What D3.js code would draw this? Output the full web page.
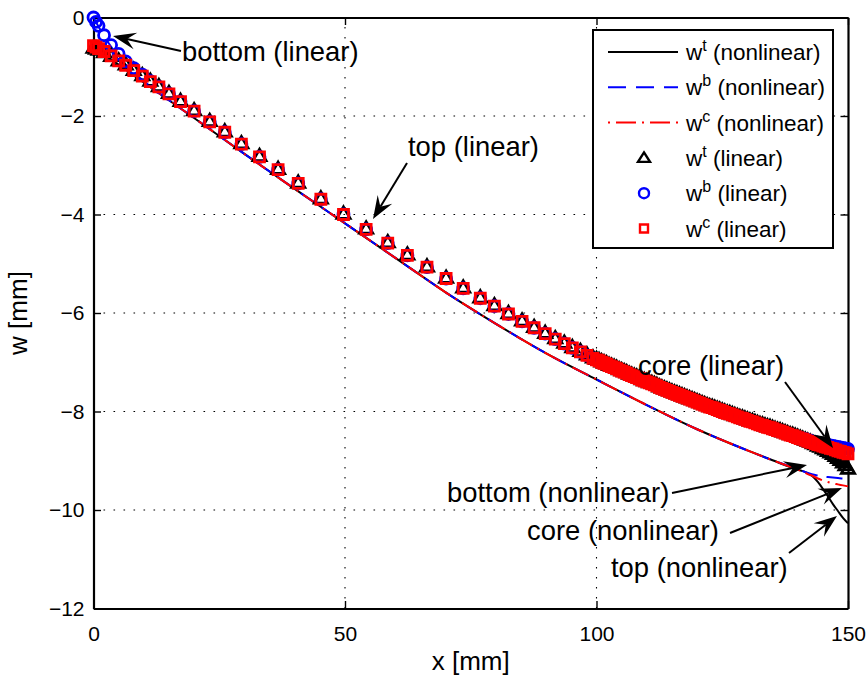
<!DOCTYPE html>
<html>
<head>
<meta charset="utf-8">
<script src="https://cdn.jsdelivr.net/npm/d3@7"></script>
<style>
  body { margin: 0; background: #fff; }
  svg { display: block; }
  text { font-family: "Liberation Sans", Arial, Helvetica, sans-serif; fill: #000; }
</style>
</head>
<body>
<svg id="chart" width="868" height="678"></svg>
<script>
// ---- axis ticks ----
const xTicks = [0, 50, 100, 150];
const yTicks = [0, -2, -4, -6, -8, -10, -12];

// ---- nonlinear solution: deflection of top face, bottom face and core [mm] ----
const xNl = [0, 2, 5, 10, 15, 20, 30, 40, 50, 60, 70, 80, 90, 100, 110, 120, 130, 135, 140,
  141, 142, 143, 144, 145, 146, 147, 148, 149, 150];
const wTopNl = [-0.62, -0.75, -0.96, -1.32, -1.68, -2.04, -2.77, -3.48, -4.18, -4.88, -5.58, -6.22, -6.82, -7.35, -7.87, -8.36, -8.79, -8.99, -9.18,
  -9.21, -9.25, -9.32, -9.43, -9.57, -9.72, -9.88, -10.02, -10.16, -10.27];
const wBotNl = [0.00, -0.36, -0.80, -1.29, -1.68, -2.04, -2.77, -3.48, -4.18, -4.88, -5.58, -6.22, -6.82, -7.35, -7.87, -8.36, -8.79, -8.99, -9.17,
  -9.21, -9.25, -9.28, -9.30, -9.32, -9.33, -9.34, -9.35, -9.36, -9.36];
const wCoreNl = [-0.62, -0.75, -0.96, -1.32, -1.68, -2.04, -2.77, -3.48, -4.18, -4.88, -5.58, -6.22, -6.82, -7.35, -7.87, -8.36, -8.79, -8.99, -9.18,
  -9.22, -9.27, -9.31, -9.36, -9.40, -9.43, -9.46, -9.48, -9.50, -9.52];

// ---- linear solution at the mesh nodes (mesh refined towards x = 150) ----
const xLin = [0, 0.5, 1, 2.1, 3.5, 5, 6.4, 8, 9.7, 11.3, 13, 15, 17.3, 20, 23.1, 26.1, 29.4, 33, 36.7, 40.7,
  45.2, 49.7, 54.2, 58.5, 62.4, 66.3, 70.1, 73.5, 76.9, 79.7, 82.5, 85.2, 87.6, 89.8, 91.8, 93.6, 95.2, 96.8, 98.1, 99.3,
  100, 100.5, 101, 101.5, 102, 102.5, 103, 103.5, 104, 104.5, 105, 105.5, 106, 106.5, 107, 107.5, 108, 108.5, 109, 109.5,
  110, 110.5, 111, 111.5, 112, 112.5, 113, 113.5, 114, 114.5, 115, 115.5, 116, 116.5, 117, 117.5, 118, 118.5, 119, 119.5,
  120, 120.5, 121, 121.5, 122, 122.5, 123, 123.5, 124, 124.5, 125, 125.5, 126, 126.5, 127, 127.5, 128, 128.5, 129, 129.5,
  130, 130.5, 131, 131.5, 132, 132.5, 133, 133.5, 134, 134.5, 135, 135.5, 136, 136.5, 137, 137.5, 138, 138.5, 139, 139.5,
  140, 140.5, 141, 141.5, 142, 142.5, 143, 143.5, 144, 144.5, 145, 145.5, 146, 146.5, 147, 147.5, 148, 148.5, 149, 149.5, 150];
const wCoreLin = [-0.57, -0.60, -0.63, -0.69, -0.78, -0.88, -0.97, -1.08, -1.19, -1.30, -1.41, -1.55, -1.71, -1.90, -2.12, -2.33, -2.57, -2.83, -3.09, -3.37,
  -3.69, -4.00, -4.30, -4.58, -4.83, -5.07, -5.30, -5.50, -5.70, -5.86, -6.02, -6.17, -6.30, -6.42, -6.53, -6.62, -6.71, -6.79, -6.86, -6.92,
  -6.95, -6.97, -7.00, -7.02, -7.04, -7.07, -7.09, -7.11, -7.13, -7.16, -7.18, -7.20, -7.22, -7.25, -7.27, -7.29, -7.31, -7.33, -7.36, -7.38,
  -7.40, -7.42, -7.44, -7.46, -7.48, -7.51, -7.53, -7.55, -7.57, -7.59, -7.61, -7.63, -7.65, -7.67, -7.69, -7.71, -7.73, -7.75, -7.77, -7.79,
  -7.81, -7.83, -7.85, -7.87, -7.89, -7.91, -7.92, -7.94, -7.96, -7.98, -8.00, -8.02, -8.04, -8.05, -8.07, -8.09, -8.11, -8.13, -8.14, -8.16,
  -8.18, -8.20, -8.21, -8.23, -8.25, -8.27, -8.28, -8.30, -8.32, -8.33, -8.35, -8.37, -8.39, -8.40, -8.42, -8.44, -8.46, -8.48, -8.49, -8.51,
  -8.53, -8.55, -8.56, -8.58, -8.60, -8.62, -8.63, -8.65, -8.67, -8.68, -8.70, -8.72, -8.73, -8.75, -8.76, -8.78, -8.80, -8.81, -8.83, -8.84, -8.86];
const wTopLin = [-0.63, -0.65, -0.67, -0.72, -0.80, -0.89, -0.97, -1.08, -1.19, -1.30, -1.41, -1.55, -1.71, -1.90, -2.12, -2.33, -2.57, -2.83, -3.09, -3.37,
  -3.69, -4.00, -4.30, -4.58, -4.83, -5.07, -5.30, -5.50, -5.70, -5.86, -6.02, -6.17, -6.30, -6.42, -6.53, -6.62, -6.71, -6.79, -6.86, -6.92,
  -6.95, -6.97, -7.00, -7.02, -7.04, -7.07, -7.09, -7.11, -7.13, -7.16, -7.18, -7.20, -7.22, -7.25, -7.27, -7.29, -7.31, -7.33, -7.36, -7.38,
  -7.40, -7.42, -7.44, -7.46, -7.48, -7.51, -7.53, -7.55, -7.57, -7.59, -7.61, -7.63, -7.65, -7.67, -7.69, -7.71, -7.73, -7.75, -7.77, -7.79,
  -7.81, -7.83, -7.85, -7.87, -7.89, -7.91, -7.92, -7.94, -7.96, -7.98, -8.00, -8.02, -8.04, -8.05, -8.07, -8.09, -8.11, -8.13, -8.14, -8.16,
  -8.18, -8.20, -8.21, -8.23, -8.25, -8.27, -8.28, -8.30, -8.32, -8.33, -8.35, -8.37, -8.39, -8.40, -8.42, -8.44, -8.46, -8.48, -8.49, -8.51,
  -8.53, -8.55, -8.57, -8.59, -8.61, -8.63, -8.66, -8.68, -8.71, -8.73, -8.76, -8.79, -8.82, -8.85, -8.88, -8.92, -8.96, -9.00, -9.05, -9.11, -9.18];
const wBotLin = [0.00, -0.09, -0.17, -0.36, -0.56, -0.74, -0.89, -1.03, -1.16, -1.29, -1.41, -1.55, -1.71, -1.90, -2.12, -2.33, -2.57, -2.83, -3.09, -3.37,
  -3.69, -4.00, -4.30, -4.58, -4.83, -5.07, -5.30, -5.50, -5.70, -5.86, -6.02, -6.17, -6.30, -6.42, -6.53, -6.62, -6.71, -6.79, -6.86, -6.92,
  -6.95, -6.97, -7.00, -7.02, -7.04, -7.07, -7.09, -7.11, -7.13, -7.16, -7.18, -7.20, -7.22, -7.25, -7.27, -7.29, -7.31, -7.33, -7.36, -7.38,
  -7.40, -7.42, -7.44, -7.46, -7.48, -7.51, -7.53, -7.55, -7.57, -7.59, -7.61, -7.63, -7.65, -7.67, -7.69, -7.71, -7.73, -7.75, -7.77, -7.79,
  -7.81, -7.83, -7.85, -7.87, -7.89, -7.91, -7.92, -7.94, -7.96, -7.98, -8.00, -8.02, -8.04, -8.05, -8.07, -8.09, -8.11, -8.13, -8.14, -8.16,
  -8.18, -8.20, -8.21, -8.23, -8.25, -8.27, -8.28, -8.30, -8.32, -8.33, -8.35, -8.37, -8.39, -8.40, -8.42, -8.44, -8.46, -8.48, -8.49, -8.51,
  -8.53, -8.54, -8.55, -8.56, -8.58, -8.59, -8.61, -8.62, -8.63, -8.65, -8.66, -8.67, -8.68, -8.69, -8.70, -8.71, -8.72, -8.73, -8.74, -8.75, -8.76];

// ---- legend and annotation texts ----
const legendSups = ["t", "b", "c", "t", "b", "c"];
const legendKinds = ["(nonlinear)", "(nonlinear)", "(nonlinear)", "(linear)", "(linear)", "(linear)"];
const annotationLabels = ["bottom (linear)", "top (linear)", "core (linear)",
  "bottom (nonlinear)", "core (nonlinear)", "top (nonlinear)"];

// ================= drawing =================
const svg = d3.select("#chart");
const L = 93.5, R = 848, T = 17.5, B = 608.5;
const x = d3.scaleLinear().domain([0, 150]).range([L, R]);
const y = d3.scaleLinear().domain([-12, 0]).range([B, T]);

svg.append("rect").attr("width", 868).attr("height", 678).attr("fill", "#fff");

// dotted grid
const grid = svg.append("g").attr("stroke", "#000").attr("stroke-width", 1.1)
  .attr("stroke-dasharray", "1.6 8.4");
grid.selectAll("line.gx").data(xTicks.slice(1, -1)).join("line")
  .attr("x1", d => x(d)).attr("x2", d => x(d)).attr("y1", B).attr("y2", T);
grid.selectAll("line.gy").data(yTicks.slice(1, -1)).join("line")
  .attr("y1", d => y(d)).attr("y2", d => y(d)).attr("x1", L).attr("x2", R);

// axes (inward ticks on all four sides)
const tickLen = 7.5;
const fmt = d => d3.format("d")(d);
const gB = svg.append("g").attr("transform", `translate(0,${B})`)
  .call(d3.axisBottom(x).tickValues(xTicks).tickSizeInner(-tickLen).tickSizeOuter(0).tickPadding(18).tickFormat(fmt));
const gL = svg.append("g").attr("transform", `translate(${L},0)`)
  .call(d3.axisLeft(y).tickValues(yTicks).tickSizeInner(-tickLen).tickSizeOuter(0).tickPadding(9).tickFormat(fmt));
const gT = svg.append("g").attr("transform", `translate(0,${T})`)
  .call(d3.axisTop(x).tickValues(xTicks).tickSizeInner(-tickLen).tickSizeOuter(0).tickFormat(""));
const gR = svg.append("g").attr("transform", `translate(${R},0)`)
  .call(d3.axisRight(y).tickValues(yTicks).tickSizeInner(-tickLen).tickSizeOuter(0).tickFormat(""));
[gB, gL, gT, gR].forEach(g => {
  g.select(".domain").attr("stroke", "#000").attr("stroke-width", 2.2);
  g.selectAll(".tick line").attr("stroke", "#000").attr("stroke-width", 1.4);
  g.selectAll(".tick text").attr("font-size", 21).attr("font-family", null);
});

// axis titles
svg.append("text").attr("x", (L + R) / 2).attr("y", 670).attr("text-anchor", "middle")
  .attr("font-size", 26).text("x [mm]");
svg.append("text").attr("transform", `translate(27,${(T + B) / 2}) rotate(-90)`)
  .attr("text-anchor", "middle").attr("font-size", 26).text("w [mm]");

// nonlinear curves
const lineGen = d3.line().x(d => x(d[0])).y(d => y(d[1])).curve(d3.curveMonotoneX);
const nlSeries = [
  { w: wTopNl, color: "#000", dash: null },
  { w: wBotNl, color: "#0000ff", dash: "16 9" },
  { w: wCoreNl, color: "#ff0000", dash: "18 6 2 6" }
];
nlSeries.forEach(s => {
  svg.append("path").datum(xNl.map((xv, i) => [xv, s.w[i]]))
    .attr("d", lineGen).attr("fill", "none").attr("stroke", s.color)
    .attr("stroke-width", 2).attr("stroke-dasharray", s.dash);
});

// marker shapes
const triPath = "M0,-7.6L6.6,3.8L-6.6,3.8Z";
const sqPath = "M-5,-5H5V5H-5Z";
const circPath = d3.symbol(d3.symbolCircle, Math.PI * 5.5 * 5.5)();
const markerStroke = 2.8;
function drawMarkers(g, pts, kind, color) {
  const sel = g.selectAll("path").data(pts).join("path")
    .attr("transform", d => `translate(${x(d[0])},${y(d[1])})`)
    .attr("fill", "none").attr("stroke", color).attr("stroke-width", markerStroke);
  if (kind === "tri") sel.attr("d", triPath).attr("stroke-linejoin", "miter");
  else if (kind === "sq") sel.attr("d", sqPath);
  else sel.attr("d", circPath);
}
drawMarkers(svg.append("g"), xLin.map((xv, i) => [xv, wTopLin[i]]), "tri", "#000");
drawMarkers(svg.append("g"), xLin.map((xv, i) => [xv, wBotLin[i]]), "circ", "#0000ff");
drawMarkers(svg.append("g"), xLin.map((xv, i) => [xv, wCoreLin[i]]), "sq", "#ff0000");

// annotations with arrows
const annLayout = [
  { tx: 182, ty: 61, tail: [181, 51], tip: [113, 36] },
  { tx: 408, ty: 156, tail: [407, 163], tip: [373, 219] },
  { tx: 638, ty: 375, tail: [785, 382], tip: [833, 448] },
  { tx: 447, ty: 502, tail: [672, 493], tip: [807, 465] },
  { tx: 527, ty: 540, tail: [730, 533], tip: [842, 488] },
  { tx: 611, ty: 577, tail: [789, 553], tip: [837, 516] }
];
const annG = svg.append("g");
annotationLabels.forEach((label, i) => {
  const a = annLayout[i];
  const dx = a.tip[0] - a.tail[0], dy = a.tip[1] - a.tail[1];
  const len = Math.hypot(dx, dy), ux = dx / len, uy = dy / len, nx = -uy, ny = ux;
  const hl = 23, hw = 8.5, notch = 0.62 * hl;
  annG.append("line").attr("x1", a.tail[0]).attr("y1", a.tail[1])
    .attr("x2", a.tip[0] - ux * notch).attr("y2", a.tip[1] - uy * notch)
    .attr("stroke", "#000").attr("stroke-width", 2);
  const p = [
    [a.tip[0], a.tip[1]],
    [a.tip[0] - ux * hl + nx * hw, a.tip[1] - uy * hl + ny * hw],
    [a.tip[0] - ux * notch, a.tip[1] - uy * notch],
    [a.tip[0] - ux * hl - nx * hw, a.tip[1] - uy * hl - ny * hw]
  ];
  annG.append("path").attr("d", "M" + p.map(q => q.join(",")).join("L") + "Z").attr("fill", "#000");
  annG.append("text").attr("x", a.tx).attr("y", a.ty).attr("font-size", 27.4).text(label);
});

// legend
const lg = svg.append("g");
lg.append("rect").attr("x", 593).attr("y", 30).attr("width", 240).attr("height", 218)
  .attr("fill", "#fff").attr("stroke", "#000").attr("stroke-width", 2);
const rowY = i => 52 + i * 35.3;
const legendStyles = [
  { type: "line", color: "#000", dash: null },
  { type: "line", color: "#0000ff", dash: "18 10" },
  { type: "line", color: "#ff0000", dash: "2 6 20 6" },
  { type: "tri", color: "#000" },
  { type: "circ", color: "#0000ff" },
  { type: "sq", color: "#ff0000" }
];
legendStyles.forEach((s, i) => {
  const yy = rowY(i);
  if (s.type === "line") {
    lg.append("line").attr("x1", 608).attr("x2", 678).attr("y1", yy).attr("y2", yy)
      .attr("stroke", s.color).attr("stroke-width", 2).attr("stroke-dasharray", s.dash);
  } else {
    const m = lg.append("path").attr("transform", `translate(644,${yy})`)
      .attr("fill", "none").attr("stroke", s.color).attr("stroke-width", 2.4);
    if (s.type === "tri") m.attr("d", "M0,-5.5L6,4L-6,4Z");
    else if (s.type === "sq") m.attr("d", "M-4,-4H4V4H-4Z");
    else m.attr("d", d3.symbol(d3.symbolCircle, Math.PI * 5 * 5)());
  }
  const t = lg.append("text").attr("x", 686).attr("y", yy + 8).attr("font-size", 22.5);
  t.append("tspan").text("w");
  t.append("tspan").attr("dy", -9).attr("font-size", 16).text(legendSups[i]);
  t.append("tspan").attr("dy", 9).text(" " + legendKinds[i]);
});
</script>
</body>
</html>
